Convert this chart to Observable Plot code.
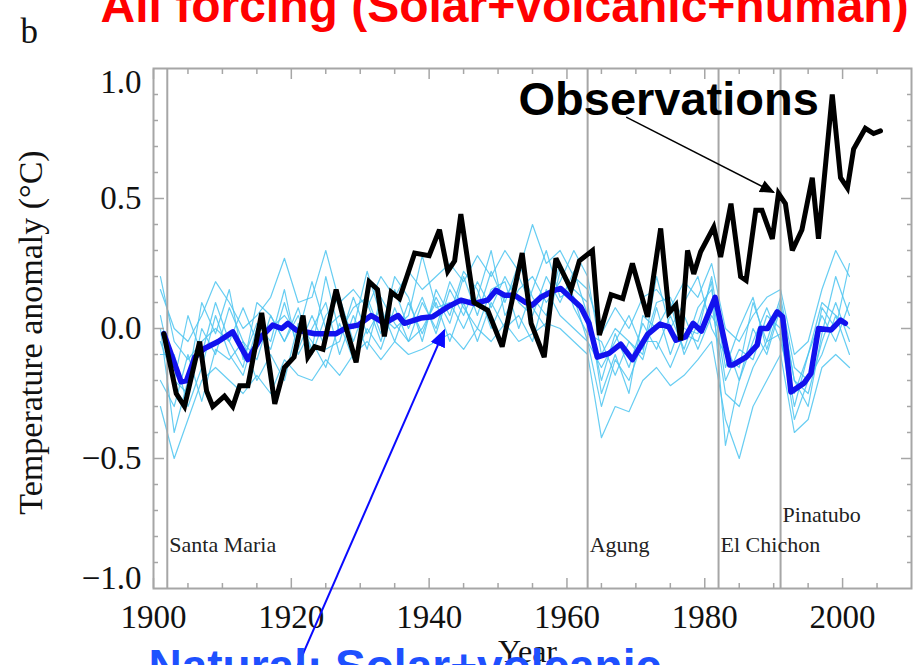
<!DOCTYPE html>
<html>
<head>
<meta charset="utf-8">
<script src="https://cdn.jsdelivr.net/npm/d3@7"></script>
<script src="https://cdn.jsdelivr.net/npm/@observablehq/plot@0.6"></script>
<style>
  html, body { margin: 0; padding: 0; background: #fff; }
  #chart { width: 916px; height: 665px; overflow: hidden; }
</style>
</head>
<body>
<div id="chart"></div>
<script>
// ---------- Observations (black) ----------
const obsYears = [1901.5, 1903.3, 1904.5, 1906.7, 1907.7, 1908.6, 1910.3, 1911.5, 1912.5, 1913.7,
  1915.7, 1917.6, 1919.0, 1920.4, 1921.7, 1922.4, 1923.4, 1924.6, 1926.5, 1927.5,
  1929.4, 1931.3, 1932.5, 1933.5, 1934.5, 1935.7, 1937.9, 1940.0, 1941.5, 1942.7,
  1943.7, 1944.6, 1946.5, 1948.5, 1950.6, 1953.5, 1954.8, 1956.7, 1958.4, 1960.6,
  1961.8, 1963.7, 1964.7, 1966.4, 1968.1, 1969.5, 1971.7, 1973.6, 1974.8, 1975.8,
  1976.5, 1977.5, 1978.4, 1979.4, 1981.3, 1982.3, 1983.8, 1985.2, 1986.0, 1987.4,
  1988.3, 1989.8, 1990.7, 1991.7, 1992.7, 1994.1, 1995.6, 1996.5, 1998.5, 1999.7,
  2000.7, 2001.6, 2003.3, 2004.5, 2005.5];
const obsTemps = [-0.02, -0.25, -0.30, -0.05, -0.24, -0.30, -0.26, -0.30, -0.22, -0.22,
  0.06, -0.29, -0.15, -0.11, 0.05, -0.11, -0.07, -0.08, 0.15, 0.045,
  -0.13, 0.18, 0.15, -0.03, 0.14, 0.115, 0.29, 0.28, 0.38, 0.22,
  0.26, 0.44, 0.10, 0.07, -0.07, 0.29, 0.02, -0.11, 0.27, 0.15,
  0.26, 0.30, -0.025, 0.13, 0.115, 0.25, 0.045, 0.385, 0.06, 0.09,
  -0.045, 0.30, 0.21, 0.295, 0.39, 0.275, 0.48, 0.20, 0.185, 0.455,
  0.455, 0.345, 0.52, 0.48, 0.30, 0.38, 0.58, 0.345, 0.90, 0.58,
  0.54, 0.69, 0.77, 0.75, 0.76];

// ---------- Natural forcing ensemble mean (dark blue) ----------
const natYears = [1901.5, 1904.0, 1904.8, 1906.0, 1907.4, 1909.4, 1911.5, 1913.7, 1915.7, 1917.3,
  1918.6, 1919.5, 1920.7, 1923.4, 1924.8, 1926.5, 1928.2, 1929.7, 1931.6, 1933.5,
  1935.5, 1936.4, 1938.8, 1940.5, 1942.7, 1944.6, 1946.5, 1948.5, 1949.7, 1950.9,
  1952.4, 1954.0, 1955.0, 1956.2, 1958.2, 1959.1, 1962.0, 1963.2, 1964.4, 1966.1,
  1967.8, 1969.5, 1971.7, 1973.5, 1974.8, 1975.8, 1977.2, 1978.3, 1979.5, 1981.5,
  1983.6, 1984.1, 1986.0, 1987.6, 1988.1, 1989.1, 1990.5, 1991.3, 1992.5, 1994.4,
  1995.4, 1996.5, 1998.3, 1999.7, 2000.4];
const natTemps = [-0.02, -0.205, -0.20, -0.11, -0.077, -0.05, -0.013, -0.12, -0.03, 0.013,
  0.0, 0.02, -0.006, -0.02, -0.02, -0.02, 0.006, 0.013, 0.05, 0.02,
  0.05, 0.02, 0.04, 0.045, 0.083, 0.109, 0.096, 0.109, 0.147, 0.128,
  0.128, 0.10, 0.09, 0.12, 0.147, 0.154, 0.083, 0.02, -0.11, -0.096,
  -0.06, -0.12, -0.023, 0.017, 0.006, -0.045, -0.032, 0.02, -0.01, 0.12,
  -0.14, -0.14, -0.11, -0.064, 0.0, 0.0, 0.064, 0.045, -0.244, -0.21,
  -0.173, 0.0, -0.006, 0.032, 0.02];

// ---------- Individual natural-forcing runs (light blue) ----------
const runYears = [1901, 1903, 1905, 1907, 1909, 1911, 1913, 1915, 1917, 1919,
  1921, 1923, 1925, 1927, 1929, 1931, 1933, 1935, 1937, 1939,
  1941, 1943, 1945, 1947, 1949, 1951, 1953, 1955, 1957, 1959,
  1961, 1963, 1965, 1967, 1969, 1971, 1973, 1975, 1977, 1979,
  1981, 1983, 1985, 1987, 1989, 1991, 1993, 1995, 1997, 1999, 2001];
const runA = [0.15, 0.0, -0.05, 0.05, 0.18, 0.1, 0.0, 0.05, 0.12, 0.27,
  0.1, 0.12, 0.3, 0.1, 0.15, 0.08, 0.2, 0.12, 0.22, 0.15,
  0.2, 0.25, 0.18, 0.28, 0.2, 0.3, 0.22, 0.4, 0.25, 0.3,
  0.2, 0.15, -0.02, 0.08, 0.0, 0.12, 0.15, 0.08, 0.18, 0.12,
  0.25, 0.0, -0.05, 0.05, 0.12, 0.15, -0.1, -0.05, 0.15, 0.3, 0.2];
const runB = [-0.3, -0.5, -0.35, -0.2, -0.15, -0.2, -0.25, -0.18, -0.25, -0.12,
  -0.18, -0.2, -0.12, -0.18, -0.1, -0.05, -0.12, -0.05, -0.1, -0.08,
  -0.05, -0.02, -0.08, 0.0, -0.05, 0.02, -0.05, -0.02, 0.02, 0.0,
  -0.05, -0.1, -0.42, -0.3, -0.32, -0.2, -0.15, -0.22, -0.18, -0.12,
  -0.05, -0.35, -0.5, -0.3, -0.2, -0.1, -0.4, -0.35, -0.15, -0.1, -0.15];
const runC = [0.05, -0.2, -0.25, 0.0, -0.1, 0.08, -0.05, -0.12, 0.05, -0.05,
  0.08, -0.1, 0.05, 0.12, -0.05, 0.1, -0.05, 0.15, 0.0, 0.12,
  -0.02, 0.15, 0.05, 0.18, 0.08, 0.2, 0.1, 0.05, 0.2, 0.1,
  0.22, 0.05, -0.2, -0.02, -0.15, 0.02, -0.08, 0.05, -0.08, 0.08,
  0.15, -0.2, -0.08, -0.12, 0.05, 0.0, -0.3, -0.1, 0.05, -0.05, 0.1];
const runD = [-0.1, -0.1, -0.3, -0.15, 0.05, -0.1, -0.18, 0.0, -0.08, 0.1,
  -0.08, 0.05, -0.08, -0.05, 0.12, -0.02, 0.08, -0.05, 0.1, -0.02,
  0.12, 0.02, 0.2, 0.05, 0.22, 0.1, 0.25, 0.12, 0.05, 0.25,
  0.08, -0.02, -0.05, -0.18, -0.05, -0.12, 0.08, -0.1, 0.05, -0.08,
  0.05, -0.05, -0.2, 0.0, -0.1, 0.08, -0.2, -0.25, -0.05, 0.1, -0.05];
const runE = [0.2, -0.05, -0.12, -0.05, 0.0, -0.05, 0.08, -0.05, 0.0, 0.05,
  -0.02, 0.18, 0.0, 0.05, 0.0, 0.22, 0.05, 0.0, 0.05, 0.28,
  0.08, 0.1, 0.0, 0.12, 0.3, 0.05, 0.15, 0.2, 0.1, 0.18,
  0.3, 0.2, -0.1, 0.0, -0.05, -0.1, 0.2, 0.0, 0.1, 0.2,
  0.0, -0.1, -0.15, 0.1, -0.05, 0.12, -0.15, -0.2, 0.08, 0.0, 0.25];
const runF = [-0.2, -0.3, -0.1, -0.28, -0.08, -0.12, -0.05, -0.2, -0.1, -0.2,
  0.02, -0.05, -0.15, 0.02, -0.12, 0.0, -0.08, 0.08, -0.05, 0.0,
  0.1, -0.05, 0.1, -0.05, 0.1, 0.0, 0.05, -0.05, 0.15, 0.05,
  0.0, -0.05, -0.3, -0.12, -0.2, -0.05, -0.05, -0.15, -0.02, -0.05,
  0.1, -0.25, -0.3, -0.15, -0.05, -0.02, -0.35, -0.2, -0.1, 0.05, -0.1];
const runG = [0.0, -0.4, -0.2, 0.1, -0.02, 0.15, -0.12, 0.02, -0.05, 0.15,
  -0.1, 0.0, 0.1, -0.1, 0.05, -0.08, 0.12, 0.02, -0.05, 0.1,
  0.0, 0.18, 0.08, 0.0, 0.15, 0.18, 0.0, 0.15, 0.3, 0.12,
  0.15, 0.1, -0.25, -0.1, -0.25, 0.05, 0.0, 0.1, -0.1, 0.02,
  0.18, -0.45, -0.2, -0.05, 0.08, -0.05, -0.25, -0.1, 0.1, 0.05, 0.0];
const runH = [-0.05, -0.2, 0.05, -0.1, 0.1, -0.05, -0.15, 0.1, 0.05, -0.05,
  0.05, -0.08, 0.2, -0.02, 0.08, 0.12, -0.02, 0.2, 0.12, -0.05,
  0.15, 0.05, 0.22, 0.15, 0.0, 0.12, 0.2, 0.08, 0.0, 0.22,
  0.12, -0.05, -0.15, -0.05, 0.05, -0.08, 0.1, 0.12, 0.0, -0.02,
  0.2, -0.15, 0.0, 0.12, -0.08, 0.1, -0.2, -0.3, -0.02, 0.2, 0.05];

// ---------- Volcanic eruptions ----------
const volcanoYears = [1902, 1963, 1982, 1991];
const volcanoNames = ["Santa Maria", "Agung", "El Chichon", "Pinatubo"];

// ---------- Ticks ----------
const xLabelYears = [1900, 1920, 1940, 1960, 1980, 2000];
const xMinorTicks = [1905, 1910, 1915, 1925, 1930, 1935, 1945, 1950, 1955, 1965, 1970, 1975, 1985, 1990, 1995, 2005];
const yMajorTicks = [-0.5, 0.0, 0.5];
const yMidLabels = ["−0.5", "0.0", "0.5"];
const yMinorTicks = [-0.9, -0.8, -0.7, -0.6, -0.4, -0.3, -0.2, -0.1, 0.1, 0.2, 0.3, 0.4, 0.6, 0.7, 0.8, 0.9];

// ---------- Tables ----------
const obs = obsYears.map((year, i) => ({year, temp: obsTemps[i]}));
const nat = natYears.map((year, i) => ({year, temp: natTemps[i]}));
const runs = [runA, runB, runC, runD, runE, runF, runG, runH]
  .flatMap((r, k) => r.map((temp, i) => ({run: k, year: runYears[i], temp})));
const volcanoes = volcanoYears.map((year, i) => ({year, name: volcanoNames[i]}));

const SERIF = "Liberation Serif, Times New Roman, serif";
const SANS = "Liberation Sans, Arial, sans-serif";
const GRAY = "#a6a6a6";

function filledArrow(size) {
  return (color, context) => {
    const doc = (context && context.document) || document;
    const ns = "http://www.w3.org/2000/svg";
    const m = doc.createElementNS(ns, "marker");
    m.setAttribute("viewBox", "0 -5 10 10");
    m.setAttribute("refX", "9");
    m.setAttribute("refY", "0");
    m.setAttribute("markerWidth", size);
    m.setAttribute("markerHeight", size);
    m.setAttribute("orient", "auto");
    m.setAttribute("fill", color);
    m.setAttribute("stroke", "none");
    const p = doc.createElementNS(ns, "path");
    p.setAttribute("d", "M0,-4.3L10,0L0,4.3Z");
    m.appendChild(p);
    return m;
  };
}

const chart = Plot.plot({
  width: 916,
  height: 665,
  marginLeft: 153,
  marginRight: 5,
  marginTop: 68,
  marginBottom: 77,
  style: {background: "#fff", fontFamily: SERIF, overflow: "hidden"},
  x: {domain: [1900, 2010], axis: null},
  y: {domain: [-1, 1], axis: null},
  marks: [
    // ensemble members
    Plot.line(runs, {x: "year", y: "temp", z: "run", stroke: "#4cc4f0", strokeWidth: 1.2, strokeOpacity: 0.85}),
    // volcano lines
    Plot.ruleX(volcanoes, {x: "year", stroke: GRAY, strokeWidth: 2}),
    // ensemble mean
    Plot.line(nat, {x: "year", y: "temp", stroke: "#1212ee", strokeWidth: 5.5, strokeLinejoin: "round"}),
    // observations
    Plot.line(obs, {x: "year", y: "temp", stroke: "#000", strokeWidth: 5, strokeLinejoin: "miter", strokeMiterlimit: 3}),
    // frame
    Plot.frame({stroke: GRAY, strokeWidth: 2}),
    // inward ticks: x
    Plot.axisX(xLabelYears, {anchor: "bottom", tickSize: -10, stroke: GRAY, strokeWidth: 1.5, fill: "none", label: null}),
    Plot.axisX(xMinorTicks, {anchor: "bottom", tickSize: -5, stroke: GRAY, strokeWidth: 1.5, fill: "none", label: null}),
    Plot.axisX(xLabelYears, {anchor: "top", tickSize: -10, stroke: GRAY, strokeWidth: 1.5, fill: "none", label: null}),
    Plot.axisX(xMinorTicks, {anchor: "top", tickSize: -5, stroke: GRAY, strokeWidth: 1.5, fill: "none", label: null}),
    // inward ticks: y
    Plot.axisY(yMajorTicks, {anchor: "left", tickSize: -11, stroke: GRAY, strokeWidth: 1.5, fill: "none", label: null}),
    Plot.axisY(yMinorTicks, {anchor: "left", tickSize: -5, stroke: GRAY, strokeWidth: 1.5, fill: "none", label: null}),
    Plot.axisY(yMajorTicks, {anchor: "right", tickSize: -11, stroke: GRAY, strokeWidth: 1.5, fill: "none", label: null}),
    Plot.axisY(yMinorTicks, {anchor: "right", tickSize: -5, stroke: GRAY, strokeWidth: 1.5, fill: "none", label: null}),
    // x tick labels
    Plot.text(xLabelYears, {x: d => d, text: d => String(d), frameAnchor: "bottom", dy: 29, lineAnchor: "middle",
      fontSize: 33, fontFamily: SERIF, fill: "#111"}),
    // y tick labels
    Plot.text(yMajorTicks, {y: d => d, text: (d, i) => yMidLabels[i], frameAnchor: "left", dx: -12, textAnchor: "end",
      lineAnchor: "middle", fontSize: 33, fontFamily: SERIF, fill: "#111"}),
    Plot.text([1.0], {y: d => d, text: ["1.0"], frameAnchor: "left", dx: -12, dy: 14, textAnchor: "end",
      lineAnchor: "middle", fontSize: 33, fontFamily: SERIF, fill: "#111"}),
    Plot.text([-1.0], {y: d => d, text: ["−1.0"], frameAnchor: "left", dx: -12, dy: -10, textAnchor: "end",
      lineAnchor: "middle", fontSize: 33, fontFamily: SERIF, fill: "#111"}),
    // axis titles
    Plot.text(["Year"], {text: d => d, frameAnchor: "bottom", dx: -5, dy: 73, textAnchor: "middle", lineAnchor: "bottom",
      fontSize: 32, fontFamily: SERIF, fill: "#111"}),
    Plot.text(["Temperature anomaly (°C)"], {text: d => d, frameAnchor: "left", dx: -122, dy: 4, rotate: -90,
      textAnchor: "middle", lineAnchor: "middle", fontSize: 34, fontFamily: SERIF, fill: "#111"}),
    // volcano labels
    Plot.text(volcanoes.slice(0, 3), {x: "year", text: "name", frameAnchor: "bottom", dx: 2, dy: -44,
      textAnchor: "start", lineAnchor: "middle", fontSize: 22, fontFamily: SERIF, fill: "#222"}),
    Plot.text(volcanoes.slice(3), {x: "year", text: "name", frameAnchor: "bottom", dx: 2, dy: -74,
      textAnchor: "start", lineAnchor: "middle", fontSize: 22, fontFamily: SERIF, fill: "#222"}),
    // annotations
    Plot.link([{x1: 1968.6, y1: 0.813, x2: 1990.0, y2: 0.524}], {x1: "x1", y1: "y1", x2: "x2", y2: "y2",
      stroke: "#000", strokeWidth: 1.5, markerEnd: filledArrow(10)}),
    Plot.text(["Observations"], {text: d => d, frameAnchor: "top-left", dx: 365, dy: 46, textAnchor: "start",
      lineAnchor: "bottom", fontSize: 47, fontWeight: "bold", fontFamily: SANS, fill: "#000"}),
    Plot.link([{x1: 1920.4, y1: -1.33, x2: 1942.2, y2: -0.007}], {x1: "x1", y1: "y1", x2: "x2", y2: "y2",
      stroke: "#0a0aff", strokeWidth: 2, markerEnd: filledArrow(9)}),
    Plot.text(["Natural: Solar+volcanic"], {text: d => d, frameAnchor: "bottom-left", dx: -5, dy: 93, textAnchor: "start",
      lineAnchor: "bottom", fontSize: 46, fontWeight: "bold", fontFamily: SANS, fill: "#1e50ff"}),
    Plot.text(["All forcing (Solar+volcanic+human)"], {text: d => d, frameAnchor: "top-left", dx: -53, dy: -47,
      textAnchor: "start", lineAnchor: "bottom", fontSize: 48, fontWeight: "bold", fontFamily: SANS, fill: "#ff0000"}),
    Plot.text(["b"], {text: d => d, frameAnchor: "top-left", dx: -133, dy: -26, textAnchor: "start",
      lineAnchor: "bottom", fontSize: 35, fontFamily: SERIF, fill: "#111"})
  ]
});

document.getElementById("chart").appendChild(chart);
</script>
</body>
</html>
